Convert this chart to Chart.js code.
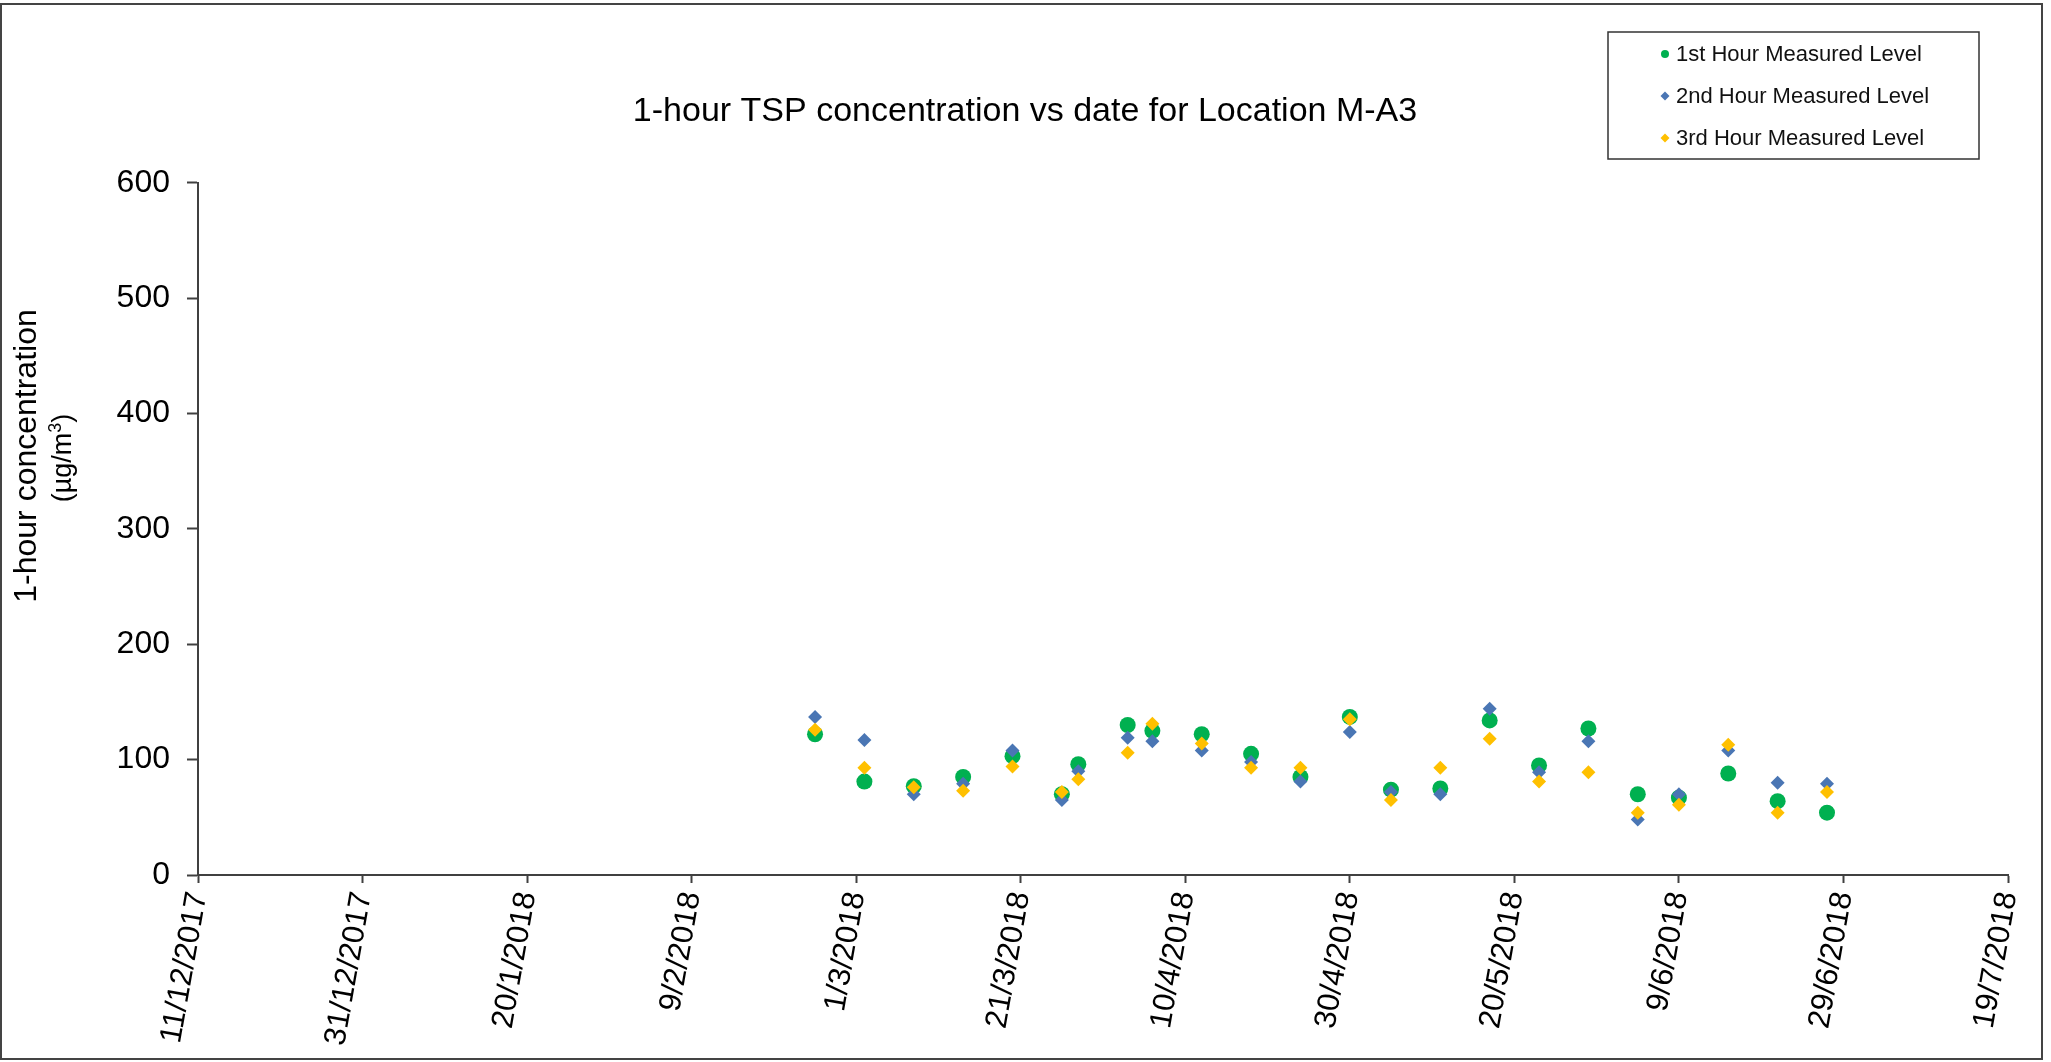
<!DOCTYPE html>
<html>
<head>
<meta charset="utf-8">
<title>1-hour TSP concentration vs date for Location M-A3</title>
<script src="https://cdn.jsdelivr.net/npm/chart.js@4.4.1/dist/chart.umd.min.js"></script>
<style>
    html, body { margin: 0; padding: 0; background: #fff; }
    #wrap { width: 2051px; height: 1062px; }
</style>
</head>
<body>
<div id="wrap"><canvas id="tspChart" width="2051" height="1062"></canvas></div>
<script>
// Graduations de l'axe des dates (tous les 20 jours)
const tickLabels = ["11/12/2017", "31/12/2017", "20/1/2018", "9/2/2018", "1/3/2018", "21/3/2018",
    "10/4/2018", "30/4/2018", "20/5/2018", "9/6/2018", "29/6/2018", "19/7/2018"];

// Dates de mesure
const sampleDates = ["24/2/2018", "2/3/2018", "8/3/2018", "14/3/2018", "20/3/2018", "26/3/2018",
    "28/3/2018", "3/4/2018", "6/4/2018", "12/4/2018", "18/4/2018", "24/4/2018", "30/4/2018",
    "5/5/2018", "11/5/2018", "17/5/2018", "23/5/2018", "29/5/2018", "4/6/2018", "9/6/2018",
    "15/6/2018", "21/6/2018", "27/6/2018"];

// Niveaux mesurés (µg/m3)
const hour1 = [122, 81, 77, 85, 103, 70, 96, 130, 125, 122, 105, 85, 137, 74, 75, 134, 95, 127, 70, 67, 88, 64, 54];
const hour2 = [137, 117, 70, 79, 108, 65, 90, 119, 116, 108, 98, 81, 124, 72, 70, 144, 89, 116, 48, 70, 108, 80, 79];
const hour3 = [126, 93, 76, 73, 94, 72, 83, 106, 131, 114, 93, 93, 135, 65, 93, 118, 81, 89, 54, 61, 113, 54, 72];

const seriesNames = ["1st Hour Measured Level", "2nd Hour Measured Level", "3rd Hour Measured Level"];
const yTicks = [0, 100, 200, 300, 400, 500, 600];

const FONT = '"Liberation Sans", Arial, sans-serif';

// jour depuis l'époque, à partir de "j/m/aaaa"
function dayNumber(s) {
    const [d, m, y] = s.split("/").map(Number);
    return Date.UTC(y, m - 1, d) / 86400000;
}

function toPoints(values) {
    return values.map((v, i) => ({ x: dayNumber(sampleDates[i]), y: v }));
}

// Cadre, titre de l'axe Y et légende encadrée
const decorPlugin = {
    id: "decor",
    beforeDraw(chart) {
        const ctx = chart.ctx;
        ctx.save();
        ctx.fillStyle = "#fff";
        ctx.fillRect(0, 0, chart.width, chart.height);
        ctx.strokeStyle = "#444";
        ctx.lineWidth = 2;
        ctx.strokeRect(1, 4, 2041, 1055);
        ctx.restore();
    },
    afterDraw(chart) {
        const ctx = chart.ctx;
        ctx.save();
        ctx.fillStyle = "#000";
        ctx.textBaseline = "middle";

        // titre de l'axe Y, ligne 1
        ctx.save();
        ctx.translate(27, 456);
        ctx.rotate(-Math.PI / 2);
        ctx.textAlign = "center";
        ctx.font = "32px " + FONT;
        ctx.fillText("1-hour concentration", 0, 0);
        ctx.restore();

        // ligne 2 avec exposant
        ctx.save();
        ctx.translate(64, 458);
        ctx.rotate(-Math.PI / 2);
        ctx.textAlign = "left";
        const big = "27px " + FONT, small = "18px " + FONT;
        ctx.font = big;
        const w1 = ctx.measureText("(µg/m").width;
        const w3 = ctx.measureText(")").width;
        ctx.font = small;
        const w2 = ctx.measureText("3").width;
        let x = -(w1 + w2 + w3) / 2;
        ctx.font = big;
        ctx.fillText("(µg/m", x, 0);
        x += w1;
        ctx.font = small;
        ctx.fillText("3", x, -8);
        x += w2;
        ctx.font = big;
        ctx.fillText(")", x, 0);
        ctx.restore();

        // légende
        ctx.strokeStyle = "#333";
        ctx.lineWidth = 1.5;
        ctx.strokeRect(1608, 32, 371, 127);
        ctx.textAlign = "left";
        ctx.font = "22px " + FONT;
        chart.data.datasets.forEach((ds, i) => {
            const y = 54 + i * 42;
            ctx.fillStyle = ds.backgroundColor;
            ctx.beginPath();
            if (ds.pointStyle === "circle") {
                ctx.arc(1665, y, 4, 0, Math.PI * 2);
            } else {
                ctx.moveTo(1665, y - 4.5);
                ctx.lineTo(1669.5, y);
                ctx.lineTo(1665, y + 4.5);
                ctx.lineTo(1660.5, y);
                ctx.closePath();
            }
            ctx.fill();
            ctx.fillStyle = "#111";
            ctx.fillText(ds.label, 1676, y + 1);
        });
        ctx.restore();
    }
};

const ctx = document.getElementById("tspChart").getContext("2d");
const tspChart = new Chart(ctx, {
    type: "scatter",
    data: {
        datasets: [
            {
                label: seriesNames[0],
                data: toPoints(hour1),
                backgroundColor: "#00B050",
                borderColor: "#00B050",
                pointStyle: "circle",
                pointRadius: 8,
                borderWidth: 0,
                order: 3,
            },
            {
                label: seriesNames[1],
                data: toPoints(hour2),
                backgroundColor: "#4A76B4",
                borderColor: "#4A76B4",
                pointStyle: "rectRot",
                pointRadius: 7,
                borderWidth: 0,
                order: 2,
            },
            {
                label: seriesNames[2],
                data: toPoints(hour3),
                backgroundColor: "#FFC000",
                borderColor: "#FFC000",
                pointStyle: "rectRot",
                pointRadius: 7,
                borderWidth: 0,
                order: 1,
            },
        ],
    },
    options: {
        responsive: false,
        devicePixelRatio: 1,
        animation: false,
        layout: {
            padding: { left: 42, right: 43, top: 0, bottom: 0 },
        },
        scales: {
            x: {
                type: "linear",
                min: dayNumber(tickLabels[0]),
                max: dayNumber(tickLabels[tickLabels.length - 1]),
                afterBuildTicks: (scale) => {
                    scale.ticks = tickLabels.map(t => ({ value: dayNumber(t) }));
                },
                afterFit: (scale) => { scale.height = 187; },
                ticks: {
                    autoSkip: false,
                    maxRotation: 80,
                    minRotation: 80,
                    padding: 6,
                    color: "#000",
                    font: { family: FONT, size: 31 },
                    callback: (value) => {
                        const i = tickLabels.findIndex(t => dayNumber(t) === value);
                        return i >= 0 ? tickLabels[i] : "";
                    },
                },
                grid: {
                    drawOnChartArea: false,
                    drawTicks: true,
                    tickLength: 8,
                    tickWidth: 2,
                    color: "#404040",
                },
                border: { color: "#404040", width: 2 },
            },
            y: {
                min: 0,
                max: 600,
                afterBuildTicks: (scale) => {
                    scale.ticks = yTicks.map(v => ({ value: v }));
                },
                afterFit: (scale) => { scale.width = 156; },
                ticks: {
                    padding: 17,
                    color: "#000",
                    font: { family: FONT, size: 32 },
                },
                grid: {
                    drawOnChartArea: false,
                    drawTicks: true,
                    tickLength: 11,
                    tickWidth: 2,
                    color: "#404040",
                },
                border: { color: "#404040", width: 2 },
            },
        },
        plugins: {
            legend: { display: false },
            tooltip: { enabled: false },
            title: {
                display: true,
                text: "1-hour TSP concentration vs date for Location M-A3",
                color: "#000",
                font: { family: FONT, size: 34, weight: "normal" },
                padding: { top: 91, bottom: 51 },
            },
        },
    },
    plugins: [decorPlugin],
});
</script>
</body>
</html>
